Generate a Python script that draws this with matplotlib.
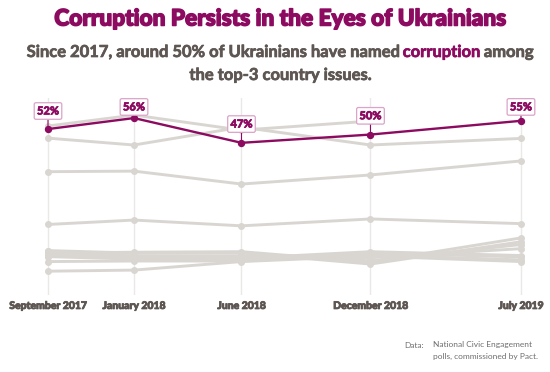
import numpy as np
import matplotlib
matplotlib.use('Agg')
import matplotlib.pyplot as plt
import matplotlib.patheffects as pe

# survey waves, as months since September 2017
months = [0, 4, 9, 15, 22]
month_labels = ['September 2017', 'January 2018', 'June 2018', 'December 2018', 'July 2019']

corruption = [52, 56, 47, 50, 55]

# the other issues (grey context lines), % naming them among top-3
other_issues = [
    [53.1, 57.1, 51.6, 54.9, np.nan],
    [48.7, 46.2, 52.7, 46.2, 48.6],
    [36.5, 36.7, 32.0, 35.3, 40.4],
    [17.3, 18.9, 16.8, 19.3, 17.6],
    [6.9, 7.2, 7.4, 3.6, 12.4],
    [7.8, 6.9, 6.9, 2.9, 11.0],
    [6.0, 5.9, 5.9, 4.1, 10.0],
    [7.5, 5.8, 5.6, 5.2, 8.5],
    [6.5, 5.5, 5.0, 7.4, 6.0],
    [5.6, 4.7, 4.7, 6.9, 5.5],
    [3.8, 4.0, 4.0, 6.2, 4.4],
    [0.3, 0.7, 3.8, 5.8, 3.8],
]

purple = '#8c0b61'
grey = '#d9d6d2'
text_grey = '#5e5652'


def heavy(col, w):
    # fake a heavier weight than the installed bold
    return [pe.withStroke(linewidth=w, foreground=col)]


fig = plt.figure(figsize=(5.5, 3.72), dpi=100)
ax = fig.add_axes([40 / 550, 77 / 372, 490 / 550, 197 / 372])

for vals in other_issues:
    ax.plot(months, vals, color=grey, lw=2.1, marker='o', ms=4, zorder=2,
            solid_capstyle='round', clip_on=False)

ax.plot(months, corruption, color=purple, lw=1.7, marker='o', ms=4.3, zorder=3,
        clip_on=False)

# value boxes over the purple line (offset in points above each point)
label_offsets = [13, 8, 13.5, 13.5, 10]
for m, v, off in zip(months, corruption, label_offsets):
    ax.annotate(f'{v}%', (m, v), xytext=(0, off), textcoords='offset points',
                ha='center', va='center', fontsize=8, fontweight='black',
                family=['Lato', 'DejaVu Sans'], color=purple, zorder=5,
                annotation_clip=False, path_effects=heavy(purple, 0.5),
                bbox=dict(boxstyle='round,pad=0.25,rounding_size=0.15', fc='white',
                          ec='#dba3c8', lw=0.9),
                arrowprops=dict(arrowstyle='-', color=purple, lw=0.8,
                                shrinkA=0, shrinkB=0))

ax.set_xlim(-0.372, 22.42)
ax.set_ylim(-8.36, 63.3)
ax.set_yticks([])
ax.set_xticks(months, month_labels)
ax.tick_params(axis='x', length=0, pad=5)
for lab in ax.get_xticklabels():
    lab.set_fontsize(7.5)
    lab.set_fontweight('black')
    lab.set_family(['Lato', 'DejaVu Sans'])
    lab.set_color(text_grey)
    lab.set_path_effects(heavy(text_grey, 0.6))
ax.grid(axis='x', color='#ebe9e8', lw=1)
ax.set_axisbelow(True)
for s in ax.spines.values():
    s.set_visible(False)

fig.text(280 / 550, 1 - 19 / 372, 'Corruption Persists in the Eyes of Ukrainians',
         ha='center', va='center', fontsize=16.3, fontweight='black',
         family=['Lato', 'DejaVu Sans'], color=purple,
         path_effects=heavy(purple, 1.1))


def colored_line(pieces, xc, y, **kw):
    # draw a centered line made of differently coloured pieces
    r = fig.canvas.get_renderer()
    widths = []
    for txt, col in pieces:
        t = fig.text(0, 0, txt, **kw)
        widths.append(t.get_window_extent(r).width)
        t.remove()
    total = sum(widths)
    x = xc * fig.bbox.width - total / 2
    for (txt, col), w in zip(pieces, widths):
        fig.text(x / fig.bbox.width, y, txt, color=col, ha='left', va='center',
                 path_effects=heavy(col, 0.5), **kw)
        x += w


sub_kw = dict(fontsize=11.9, fontweight='bold', family=['Lato', 'DejaVu Sans'])
colored_line([('Since 2017, around 50% of Ukrainians have named ', text_grey),
              ('corruption', purple), (' among', text_grey)],
             280 / 550, 1 - 52 / 372, **sub_kw)
colored_line([('the top-3 country issues.', text_grey)], 280 / 550, 1 - 75 / 372, **sub_kw)

note_kw = dict(fontsize=6, family=['Lato', 'DejaVu Sans'], color='#6e6e6e', va='center')
fig.text(424 / 550, 1 - 345 / 372, 'Data:', ha='right', **note_kw)
fig.text(433 / 550, 1 - 345 / 372, 'National Civic Engagement', ha='left', **note_kw)
fig.text(433 / 550, 1 - 356 / 372, 'polls, commissioned by Pact.', ha='left', **note_kw)

fig.savefig('out.png', dpi=100)
